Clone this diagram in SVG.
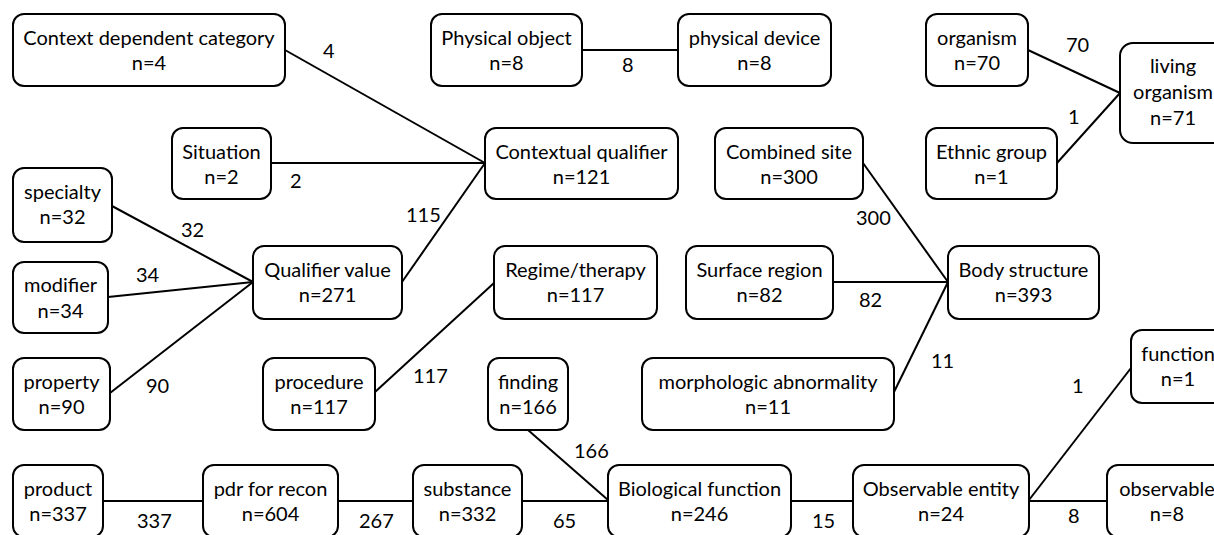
<svg xmlns="http://www.w3.org/2000/svg" width="1214" height="535" viewBox="0 0 1214 535">
<style>
.n rect{fill:#fff;stroke:#000;stroke-width:2}
text{font-family:Lato,"Liberation Sans",sans-serif;font-size:20px;fill:#000}
.n text{text-anchor:middle}
.e line{stroke:#000;stroke-width:2}
</style>
<rect width="1214" height="535" fill="#fff"/>
<g class="e" id="connectors">
<line x1="285" y1="50" x2="485" y2="163"/>
<line x1="271" y1="163" x2="485" y2="163"/>
<line x1="402" y1="282" x2="485" y2="163"/>
<line x1="112" y1="206" x2="253" y2="282"/>
<line x1="108" y1="297" x2="253" y2="282"/>
<line x1="110" y1="393" x2="253" y2="282"/>
<line x1="582" y1="50" x2="678" y2="50"/>
<line x1="375" y1="392" x2="494" y2="283"/>
<line x1="1028" y1="50" x2="1120" y2="93"/>
<line x1="1057" y1="163" x2="1120" y2="93"/>
<line x1="863" y1="163" x2="948" y2="282"/>
<line x1="833" y1="282" x2="948" y2="282"/>
<line x1="894" y1="392" x2="948" y2="282"/>
<line x1="528" y1="430" x2="608" y2="500"/>
<line x1="103" y1="501" x2="203" y2="501"/>
<line x1="338" y1="501" x2="413" y2="501"/>
<line x1="522" y1="501" x2="608" y2="501"/>
<line x1="791" y1="501" x2="853" y2="501"/>
<line x1="1029" y1="500" x2="1131" y2="368"/>
<line x1="1029" y1="501" x2="1107" y2="501"/>
<text x="323" y="58">4</text>
<text x="290" y="188">2</text>
<text x="406" y="222">115</text>
<text x="181" y="237">32</text>
<text x="136" y="282">34</text>
<text x="146" y="393">90</text>
<text x="622" y="72">8</text>
<text x="413" y="383">117</text>
<text x="1066" y="52">70</text>
<text x="1068" y="124">1</text>
<text x="856" y="225">300</text>
<text x="859" y="307">82</text>
<text x="931" y="368">11</text>
<text x="1072" y="393">1</text>
<text x="574" y="458">166</text>
<text x="137" y="528">337</text>
<text x="359" y="528">267</text>
<text x="553" y="528">65</text>
<text x="812" y="528">15</text>
<text x="1068" y="523">8</text>
</g>
<g class="n" id="n-context-dependent"><rect x="13" y="14" width="272" height="72" rx="11"/><text x="149" y="45">Context dependent category</text><text x="149" y="70">n=4</text></g>
<g class="n" id="n-situation"><rect x="172" y="128" width="99" height="71" rx="11"/><text x="221.5" y="159">Situation</text><text x="221.5" y="184">n=2</text></g>
<g class="n" id="n-physical-object"><rect x="431" y="14" width="151" height="72" rx="11"/><text x="506.5" y="45">Physical object</text><text x="506.5" y="70">n=8</text></g>
<g class="n" id="n-physical-device"><rect x="678" y="14" width="153" height="72" rx="11"/><text x="754.5" y="45">physical device</text><text x="754.5" y="70">n=8</text></g>
<g class="n" id="n-contextual-qualifier"><rect x="485" y="128" width="193" height="71" rx="11"/><text x="581.5" y="159">Contextual qualifier</text><text x="581.5" y="184">n=121</text></g>
<g class="n" id="n-combined-site"><rect x="715" y="128" width="148" height="71" rx="11"/><text x="789" y="159">Combined site</text><text x="789" y="184">n=300</text></g>
<g class="n" id="n-organism"><rect x="926" y="14" width="102" height="72" rx="11"/><text x="977" y="45">organism</text><text x="977" y="70">n=70</text></g>
<g class="n" id="n-living-organism"><rect x="1120" y="43" width="106" height="100" rx="13"/><text x="1173" y="73">living</text><text x="1173" y="99">organism</text><text x="1173" y="125">n=71</text></g>
<g class="n" id="n-ethnic-group"><rect x="926" y="128" width="131" height="71" rx="11"/><text x="991.5" y="159">Ethnic group</text><text x="991.5" y="184">n=1</text></g>
<g class="n" id="n-specialty"><rect x="13" y="168" width="99" height="74" rx="11"/><text x="62.5" y="199">specialty</text><text x="62.5" y="224">n=32</text></g>
<g class="n" id="n-modifier"><rect x="13" y="262" width="95" height="71" rx="11"/><text x="60.5" y="292">modifier</text><text x="60.5" y="318">n=34</text></g>
<g class="n" id="n-property"><rect x="13" y="358" width="97" height="72" rx="11"/><text x="61.5" y="389">property</text><text x="61.5" y="414">n=90</text></g>
<g class="n" id="n-qualifier-value"><rect x="253" y="246" width="149" height="73" rx="11"/><text x="327.5" y="277">Qualifier value</text><text x="327.5" y="302">n=271</text></g>
<g class="n" id="n-regime-therapy"><rect x="494" y="246" width="163" height="73" rx="11"/><text x="575.5" y="277">Regime/therapy</text><text x="575.5" y="302">n=117</text></g>
<g class="n" id="n-surface-region"><rect x="686" y="246" width="147" height="73" rx="11"/><text x="759.5" y="277">Surface region</text><text x="759.5" y="302">n=82</text></g>
<g class="n" id="n-body-structure"><rect x="948" y="246" width="151" height="73" rx="11"/><text x="1023.5" y="277">Body structure</text><text x="1023.5" y="302">n=393</text></g>
<g class="n" id="n-procedure"><rect x="263" y="358" width="112" height="72" rx="11"/><text x="319" y="389">procedure</text><text x="319" y="414">n=117</text></g>
<g class="n" id="n-finding"><rect x="488" y="358" width="80" height="72" rx="11"/><text x="528" y="389">finding</text><text x="528" y="414">n=166</text></g>
<g class="n" id="n-morphologic"><rect x="642" y="358" width="252" height="72" rx="11"/><text x="768" y="389">morphologic abnormality</text><text x="768" y="414">n=11</text></g>
<g class="n" id="n-function"><rect x="1131" y="330" width="94" height="73" rx="11"/><text x="1178" y="361">function</text><text x="1178" y="386">n=1</text></g>
<g class="n" id="n-product"><rect x="13" y="465" width="90" height="72" rx="11"/><text x="58" y="496">product</text><text x="58" y="521">n=337</text></g>
<g class="n" id="n-pdr-for-recon"><rect x="203" y="465" width="135" height="72" rx="11"/><text x="270.5" y="496">pdr for recon</text><text x="270.5" y="521">n=604</text></g>
<g class="n" id="n-substance"><rect x="413" y="465" width="109" height="72" rx="11"/><text x="467.5" y="496">substance</text><text x="467.5" y="521">n=332</text></g>
<g class="n" id="n-biological-function"><rect x="608" y="465" width="183" height="72" rx="11"/><text x="699.5" y="496">Biological function</text><text x="699.5" y="521">n=246</text></g>
<g class="n" id="n-observable-entity"><rect x="853" y="465" width="176" height="72" rx="11"/><text x="941" y="496">Observable entity</text><text x="941" y="521">n=24</text></g>
<g class="n" id="n-observable"><rect x="1107" y="465" width="120" height="72" rx="11"/><text x="1167" y="496">observable</text><text x="1167" y="521">n=8</text></g>
</svg>
